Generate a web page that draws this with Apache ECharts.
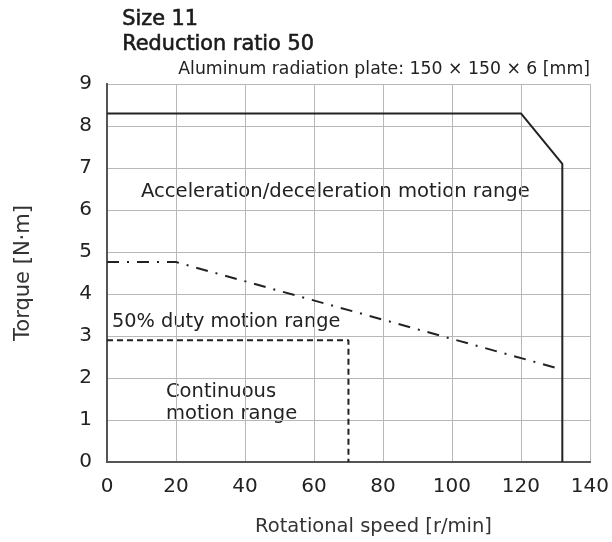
<!DOCTYPE html>
<html><head><meta charset="utf-8">
<script src="https://cdn.jsdelivr.net/npm/echarts@6/dist/echarts.min.js"></script>
<style>html,body{margin:0;padding:0;background:#fff}#c{width:612px;height:542px}</style>
</head><body><div id="c"></div>
<script>
const FONT = "DejaVu Sans";
const xTicks = [0, 20, 40, 60, 80, 100, 120, 140];
const yTicks = [0, 1, 2, 3, 4, 5, 6, 7, 8, 9];
const accelSpeed = [0, 120, 132, 132];
const accelTorque = [8.3, 8.3, 7.1, 0];
const dutySpeed = [0, 20, 132];
const dutyTorque = [4.76, 4.76, 2.2];
const contSpeed = [0, 70, 70];
const contTorque = [2.9, 2.9, 0];

const zip = (a, b) => a.map((v, i) => [v, b[i]]);
const chart = echarts.init(document.getElementById('c'));
const gridLine = { show: true, lineStyle: { color: '#b8b8b8', width: 1, type: 'solid' } };
const border = { show: true, lineStyle: { color: '#555', width: 2 } };
chart.setOption({
  animation: false,
  textStyle: { fontFamily: FONT },
  grid: { left: 107, right: 21, top: 84, bottom: 80, containLabel: false },
  xAxis: [{
    type: 'value', min: 0, max: 140, interval: 20, position: 'bottom',
    name: 'Rotational speed [r/min]', nameLocation: 'middle', nameGap: 55,
    nameTextStyle: { fontSize: 19.5, color: '#333', fontFamily: FONT, padding: [0, 0, 0, 50] },
    axisLine: border, axisTick: { show: false },
    axisLabel: { fontSize: 20, color: '#222', margin: 15, fontFamily: FONT,
      formatter: v => xTicks.includes(v) ? String(v) : '' },
    splitLine: gridLine
  }, {
    type: 'value', min: 0, max: 140, interval: 20, position: 'top',
    axisLine: border, axisTick: { show: false }, axisLabel: { show: false }, splitLine: { show: false }
  }],
  yAxis: [{
    type: 'value', min: 0, max: 9, interval: 1, position: 'left',
    name: 'Torque [N·m]', nameLocation: 'middle', nameGap: 73, nameRotate: 90,
    nameTextStyle: { fontSize: 21, color: '#333', fontFamily: FONT },
    axisLine: border, axisTick: { show: false },
    axisLabel: { fontSize: 20, color: '#222', margin: 15, fontFamily: FONT,
      formatter: v => yTicks.includes(v) ? String(v) : '' },
    splitLine: gridLine
  }, {
    type: 'value', min: 0, max: 9, interval: 1, position: 'right',
    axisLine: border, axisTick: { show: false }, axisLabel: { show: false }, splitLine: { show: false }
  }],
  series: [
    { type: 'line', data: zip(accelSpeed, accelTorque), symbol: 'none', lineStyle: { color: '#222', width: 2 }, z: 5 },
    { type: 'line', data: zip(dutySpeed, dutyTorque), symbol: 'none', lineStyle: { color: '#222', width: 2, type: [12, 8, 2, 8] }, z: 4 },
    { type: 'line', data: zip(contSpeed, contTorque), symbol: 'none', lineStyle: { color: '#222', width: 2, type: [6, 4] }, z: 4 }
  ],
  graphic: [
    { type: 'text', left: 122, top: 9, style: { text: 'Size 11', fontSize: 20.8, fill: '#1a1a1a', stroke: '#1a1a1a', lineWidth: 0.6, fontFamily: FONT } },
    { type: 'text', left: 122, top: 34, style: { text: 'Reduction ratio 50', fontSize: 20.8, fill: '#1a1a1a', stroke: '#1a1a1a', lineWidth: 0.6, fontFamily: FONT } },
    { type: 'text', right: 22, top: 61, style: { text: 'Aluminum radiation plate: 150 × 150 × 6 [mm]', fontSize: 17.3, fill: '#222', fontFamily: FONT } },
    { type: 'text', left: 141, top: 182, style: { text: 'Acceleration/deceleration motion range', fontSize: 19.6, fill: '#222', fontFamily: FONT } },
    { type: 'text', left: 112, top: 312, style: { text: '50% duty motion range', fontSize: 19.3, fill: '#222', fontFamily: FONT } },
    { type: 'text', left: 166, top: 381, style: { text: 'Continuous\nmotion range', fontSize: 19.5, lineHeight: 22, fill: '#222', fontFamily: FONT } }
  ]
});
</script></body></html>
